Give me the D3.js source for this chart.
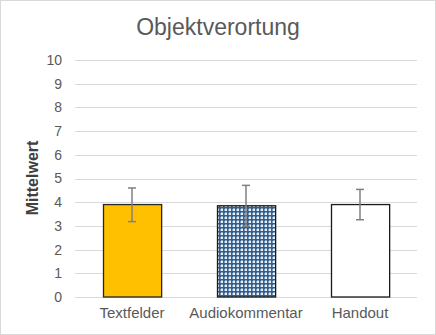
<!DOCTYPE html>
<html><head><meta charset="utf-8">
<script src="https://cdn.jsdelivr.net/npm/d3@7"></script>
<style>html,body{margin:0;padding:0;background:#fff;}svg{display:block;font-family:"Liberation Sans",Arial,sans-serif;}</style>
</head><body>
<script>
const categories = ["Textfelder", "Audiokommentar", "Handout"];
const means = [3.90, 3.85, 3.90];
const errUpper = [4.60, 4.71, 4.54];
const errLower = [3.18, 2.98, 3.26];
const yTicks = [0,1,2,3,4,5,6,7,8,9,10];
const title = "Objektverortung";
const yLabel = "Mittelwert";

const W = 436, H = 335;
const svg = d3.select("body").append("svg").attr("width", W).attr("height", H);
const defs = svg.append("defs");
const pat = defs.append("pattern").attr("id","check").attr("patternUnits","userSpaceOnUse")
  .attr("width",4).attr("height",4);
pat.append("rect").attr("width",4).attr("height",4).attr("fill","#2f5f8e");
pat.append("rect").attr("x",1).attr("y",1).attr("width",2).attr("height",2).attr("fill","#e8eef5");
pat.append("rect").attr("x",0).attr("y",1).attr("width",1).attr("height",2).attr("fill","#7f9cba");
pat.append("rect").attr("x",1).attr("y",0).attr("width",2).attr("height",1).attr("fill","#8aa4c0");

svg.append("rect").attr("x",0.5).attr("y",0.5).attr("width",W-1).attr("height",H-1)
  .attr("fill","#fff").attr("stroke","#d9d9d9");

const x = d3.scaleBand().domain(categories).range([75, 417]).paddingInner(0.49).paddingOuter(0.245);
const y = d3.scaleLinear().domain([0,10]).range([297, 60]);

// gridlines
svg.append("g").selectAll("line").data(yTicks).join("line")
  .attr("x1",75).attr("x2",417)
  .attr("y1",d=>Math.round(y(d))+0.5).attr("y2",d=>Math.round(y(d))+0.5)
  .attr("stroke","#d9d9d9").attr("stroke-width",1);

// y axis labels
const yAxis = d3.axisLeft(y).tickValues(yTicks).tickSize(0).tickPadding(0);
const gy = svg.append("g").attr("transform","translate(62,0)").call(yAxis);
gy.select(".domain").remove();
gy.selectAll("text").attr("font-size",14).attr("fill","#595959")
  .attr("font-family","'Liberation Sans',Arial,sans-serif");

// x axis labels
const xAxis = d3.axisBottom(x).tickSize(0).tickPadding(0);
const gx = svg.append("g").attr("transform","translate(0,307)").call(xAxis);
gx.select(".domain").remove();
gx.selectAll("text").attr("font-size",15).attr("fill","#595959")
  .attr("font-family","'Liberation Sans',Arial,sans-serif");

const fills = ["#ffc000", "url(#check)", "#ffffff"];
const strokes = ["#262626", "#1a1a1a", "#1a1a1a"];

svg.append("g").selectAll("rect").data(categories).join("rect")
  .attr("x",d=>Math.round(x(d))+0.5)
  .attr("y",(d,i)=>y(means[i]))
  .attr("width",x.bandwidth())
  .attr("height",(d,i)=>y(0)-y(means[i]))
  .attr("fill",(d,i)=>fills[i])
  .attr("stroke",(d,i)=>strokes[i]).attr("stroke-width",1.3);

// error bars
const eg = svg.append("g").attr("stroke","#808080").attr("stroke-width",1.5);
categories.forEach((c,i)=>{
  const cx = x(c)+x.bandwidth()/2;
  eg.append("line").attr("x1",cx).attr("x2",cx).attr("y1",y(errUpper[i])).attr("y2",y(errLower[i]));
  eg.append("line").attr("x1",cx-4).attr("x2",cx+4).attr("y1",y(errUpper[i])).attr("y2",y(errUpper[i]));
  eg.append("line").attr("x1",cx-4).attr("x2",cx+4).attr("y1",y(errLower[i])).attr("y2",y(errLower[i]));
});

svg.append("text").attr("x",218).attr("y",35).attr("text-anchor","middle")
  .attr("font-size",23).attr("fill","#595959").text(title);

svg.append("text").attr("transform","translate(38,178) rotate(-90)").attr("text-anchor","middle")
  .attr("font-size",16).attr("font-weight","bold").attr("fill","#404040").text(yLabel);
</script>
</body></html>
